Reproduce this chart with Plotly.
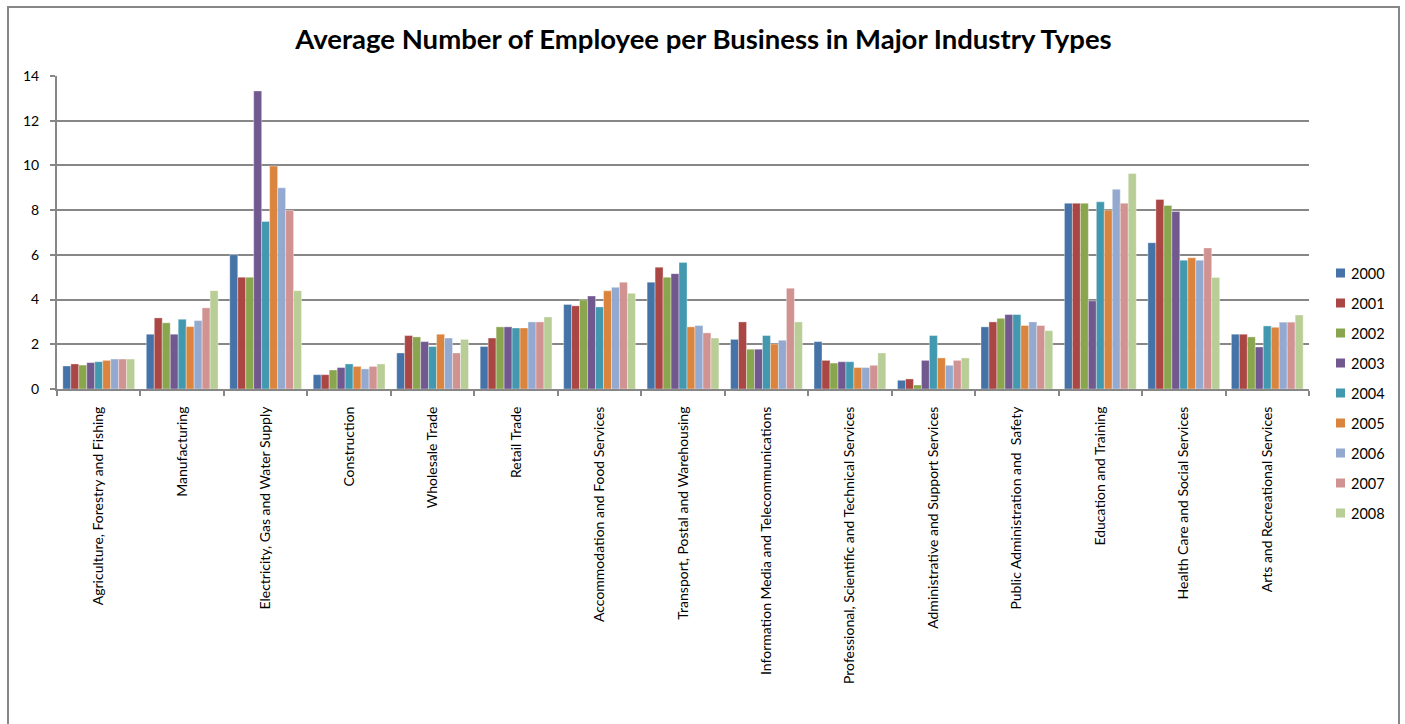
import plotly.graph_objects as go

industries = [
    "Agriculture, Forestry and Fishing",
    "Manufacturing",
    "Electricity, Gas and Water Supply",
    "Construction",
    "Wholesale Trade",
    "Retail Trade",
    "Accommodation and Food Services",
    "Transport, Postal and Warehousing",
    "Information Media and Telecommunications",
    "Professional, Scientific and Technical Services",
    "Administrative and Support Services",
    "Public Administration and  Safety",
    "Education and Training",
    "Health Care and Social Services",
    "Arts and Recreational Services",
]

years = ["2000", "2001", "2002", "2003", "2004", "2005", "2006", "2007", "2008"]

y2000 = [1.03, 2.45, 6.01, 0.64, 1.61, 1.90, 3.78, 4.78, 2.22, 2.12, 0.39, 2.78, 8.31, 6.54, 2.45]
y2001 = [1.12, 3.18, 5.00, 0.64, 2.39, 2.28, 3.72, 5.45, 3.00, 1.28, 0.45, 3.00, 8.31, 8.48, 2.45]
y2002 = [1.07, 2.96, 5.00, 0.85, 2.33, 2.78, 3.99, 5.00, 1.78, 1.16, 0.18, 3.16, 8.31, 8.21, 2.33]
y2003 = [1.18, 2.45, 13.33, 0.96, 2.12, 2.78, 4.16, 5.16, 1.78, 1.22, 1.28, 3.33, 3.94, 7.94, 1.88]
y2004 = [1.22, 3.12, 7.49, 1.12, 1.90, 2.73, 3.67, 5.66, 2.39, 1.22, 2.39, 3.33, 8.37, 5.76, 2.82]
y2005 = [1.28, 2.79, 9.97, 1.01, 2.45, 2.73, 4.39, 2.78, 2.01, 0.96, 1.39, 2.84, 8.00, 5.87, 2.76]
y2006 = [1.34, 3.06, 9.00, 0.90, 2.28, 3.00, 4.55, 2.84, 2.18, 0.96, 1.06, 3.00, 8.93, 5.76, 2.99]
y2007 = [1.34, 3.63, 7.99, 1.01, 1.61, 3.00, 4.78, 2.51, 4.51, 1.06, 1.28, 2.84, 8.31, 6.31, 2.99]
y2008 = [1.34, 4.40, 4.40, 1.12, 2.22, 3.22, 4.28, 2.28, 3.00, 1.61, 1.39, 2.61, 9.64, 4.99, 3.31]

series = [y2000, y2001, y2002, y2003, y2004, y2005, y2006, y2007, y2008]
colors = ["#4572A7", "#AA4643", "#89A54E", "#71588F", "#4198AF",
          "#DB843D", "#93A9CF", "#D19392", "#B9CD96"]

y_ticks = [0, 2, 4, 6, 8, 10, 12, 14]

FONT = "Lato"
GRID = "#878787"

fig = go.Figure()
for yr, vals, col in zip(years, series, colors):
    fig.add_trace(go.Bar(
        x=industries, y=vals, name=yr, showlegend=False,
        marker=dict(color=col, line=dict(color="rgba(255,255,255,0.6)", width=0.6)),
    ))

# plot area spans x 57..1309, y 76..389 in page pixels
L, R, T, B = 57, 1309, 76, 389
W, H = 1405, 724
pw, ph = R - L, B - T


def px_x(p):
    return (p - L) / pw


def px_y(p):
    return (B - p) / ph


# legend drawn as squares + labels to the right of the plot
shapes = [
    dict(type="rect", xref="paper", yref="paper",
         x0=px_x(8), x1=px_x(1399), y0=px_y(740), y1=px_y(7),
         line=dict(color=GRID, width=2), fillcolor="rgba(0,0,0,0)",
         layer="below"),
]
annotations = []
for i, (yr, col) in enumerate(zip(years, colors)):
    cy = 273 + 30 * i
    shapes.append(dict(
        type="rect", xref="paper", yref="paper",
        x0=px_x(1336), x1=px_x(1345), y0=px_y(cy + 4.5), y1=px_y(cy - 4.5),
        line=dict(width=0), fillcolor=col,
    ))
    annotations.append(dict(
        text=yr, xref="paper", yref="paper", x=px_x(1349), y=px_y(cy),
        xanchor="left", yanchor="middle", showarrow=False,
        font=dict(family=FONT, size=14.5, color="#000000"),
    ))

fig.update_layout(
    width=W, height=H,
    margin=dict(l=L, r=W - R, t=T, b=H - B, pad=0, autoexpand=False),
    paper_bgcolor="white", plot_bgcolor="white",
    barmode="group", bargap=0.14, bargroupgap=0,
    font=dict(family=FONT, size=14, color="#000000"),
    showlegend=False,
    title=dict(
        text="<b>Average Number of Employee per Business in Major Industry Types</b>",
        x=703.5 / W, xanchor="center", xref="container",
        y=1 - 39 / H, yanchor="middle", yref="container",
        font=dict(family=FONT, size=27.5, color="#000000"),
    ),
    xaxis=dict(
        type="category", tickangle=-90, tickson="boundaries",
        ticks="outside", ticklen=5, tickwidth=2, tickcolor=GRID,
        showline=True, linecolor=GRID, linewidth=2,
        showgrid=False, tickfont=dict(family=FONT, size=14),
        ticklabelstandoff=10,
        fixedrange=True,
    ),
    yaxis=dict(
        range=[0, 14], tickvals=y_ticks,
        ticks="outside", ticklen=5, tickwidth=2, tickcolor=GRID,
        showline=True, linecolor=GRID, linewidth=2,
        showgrid=True, gridcolor=GRID, gridwidth=2,
        zeroline=False, tickfont=dict(family=FONT, size=14),
        ticklabelstandoff=8,
        fixedrange=True,
    ),
    shapes=shapes,
    annotations=annotations,
)

fig.write_html("out.html")
